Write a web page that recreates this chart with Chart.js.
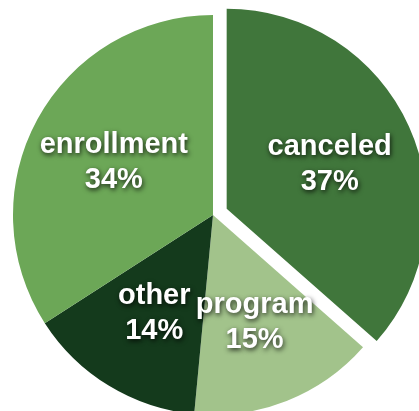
<!DOCTYPE html>
<html>
<head>
<meta charset="utf-8">
<script src="https://cdn.jsdelivr.net/npm/chart.js@4/dist/chart.umd.min.js"></script>
<style>
  html, body { margin: 0; padding: 0; background: #ffffff; overflow: hidden; width: 419px; height: 411px; }
  #c { position: absolute; left: 0; top: 0; }
</style>
</head>
<body>
<canvas id="c" width="426" height="430"></canvas>
<script>
const categories = ["canceled", "program", "other", "enrollment"];
const values = [36.5, 15.0, 14.4, 34.1];
const percentLabels = ["37%", "15%", "14%", "34%"];

const colors = ["#40763b", "#a2c38b", "#143a1c", "#6ca757"];
const explodePx = [15, 0, 0, 0];

// Shift exploded slices without changing their radius
const explodePlugin = {
  id: "explode",
  afterUpdate(chart) {
    chart.getDatasetMeta(0).data.forEach((arc, i) => {
      if (arc._explodePatched) return;
      const orig = arc.draw;
      arc.draw = function (ctx, area) {
        const mid = (this.startAngle + this.endAngle) / 2;
        ctx.save();
        ctx.translate(Math.cos(mid) * explodePx[i], Math.sin(mid) * explodePx[i]);
        orig.call(this, ctx, area);
        ctx.restore();
      };
      arc._explodePatched = true;
    });
  }
};

const labelPlugin = {
  id: "sliceLabels",
  afterDatasetsDraw(chart) {
    const ctx = chart.ctx;
    const meta = chart.getDatasetMeta(0);
    ctx.save();
    ctx.font = "bold 29px 'Liberation Sans', Arial, sans-serif";
    ctx.textAlign = "center";
    ctx.textBaseline = "alphabetic";
    ctx.fillStyle = "#ffffff";
    ctx.shadowColor = "rgba(0,0,0,0.8)";
    ctx.shadowBlur = 5;
    ctx.shadowOffsetX = 1;
    ctx.shadowOffsetY = 2;
    meta.data.forEach((arc, i) => {
      const p = arc.getProps(["x", "y", "startAngle", "endAngle", "outerRadius"], true);
      const mid = (p.startAngle + p.endAngle) / 2;
      const d = explodePx[i] + p.outerRadius * 0.565;
      const cx = p.x + Math.cos(mid) * d;
      const cy = p.y + Math.sin(mid) * d;
      ctx.fillText(categories[i], cx, cy - 7.5);
      ctx.fillText(percentLabels[i], cx, cy + 27.5);
    });
    ctx.restore();
  }
};

new Chart(document.getElementById("c"), {
  type: "pie",
  data: {
    labels: categories,
    datasets: [{
      data: values,
      backgroundColor: colors,
      borderWidth: 0,
      radius: 200
    }]
  },
  options: {
    responsive: false,
    animation: false,
    layout: { padding: 0 },
    plugins: {
      legend: { display: false },
      tooltip: { enabled: false }
    }
  },
  plugins: [explodePlugin, labelPlugin]
});
</script>
</body>
</html>
